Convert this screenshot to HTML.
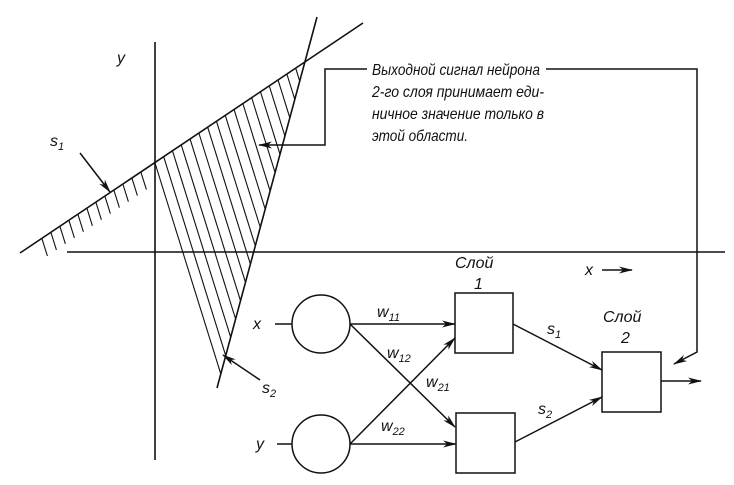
<!DOCTYPE html>
<html><head><meta charset="utf-8"><style>
html,body{margin:0;padding:0;background:#fff;width:734px;height:485px;overflow:hidden}
svg text{font-family:"Liberation Sans","DejaVu Sans",sans-serif;font-style:italic;fill:#111}
</style></head><body>
<svg width="734" height="485" viewBox="0 0 734 485" xmlns="http://www.w3.org/2000/svg">
<defs><marker id="a" markerWidth="14" markerHeight="8" refX="13" refY="4" orient="auto" markerUnits="userSpaceOnUse"><path d="M0,0.5 L14,4 L0,7.5 L4,4 Z" fill="#111"/></marker></defs>
<g stroke="#111" fill="none" stroke-width="1.6">
<line x1="155" y1="42" x2="155" y2="460"/>
<line x1="67" y1="252" x2="725" y2="252"/>
<line x1="20" y1="253" x2="363" y2="23"/>
<line x1="317" y1="17" x2="217" y2="388"/>
</g>
<g stroke="#111" stroke-width="1.1">
<line x1="155" y1="163" x2="220.8" y2="373.9"/><line x1="163.8" y1="157.1" x2="225.7" y2="355.6"/><line x1="172.6" y1="151.2" x2="230.7" y2="337.3"/><line x1="181.4" y1="145.3" x2="235.6" y2="319"/><line x1="190.2" y1="139.4" x2="240.5" y2="300.7"/><line x1="199" y1="133.5" x2="245.5" y2="282.4"/><line x1="207.8" y1="127.6" x2="250.4" y2="264.1"/><line x1="216.6" y1="121.7" x2="255.3" y2="245.8"/><line x1="225.4" y1="115.8" x2="260.3" y2="227.5"/><line x1="234.2" y1="109.9" x2="265.2" y2="209.2"/><line x1="243" y1="104" x2="270.1" y2="190.9"/><line x1="251.8" y1="98.1" x2="275.1" y2="172.6"/><line x1="260.6" y1="92.2" x2="280" y2="154.3"/><line x1="269.4" y1="86.3" x2="284.9" y2="136"/><line x1="278.2" y1="80.4" x2="289.8" y2="117.7"/><line x1="287" y1="74.5" x2="294.8" y2="99.4"/><line x1="295.8" y1="68.6" x2="299.7" y2="81.1"/>
<line x1="42" y1="238.8" x2="47.4" y2="256"/><line x1="51" y1="232.7" x2="56.4" y2="249.9"/><line x1="60" y1="226.7" x2="65.4" y2="243.9"/><line x1="69" y1="220.7" x2="74.4" y2="237.9"/><line x1="78" y1="214.6" x2="83.4" y2="231.8"/><line x1="87" y1="208.6" x2="92.4" y2="225.8"/><line x1="96" y1="202.6" x2="101.4" y2="219.8"/><line x1="105" y1="196.5" x2="110.4" y2="213.7"/><line x1="114" y1="190.5" x2="119.4" y2="207.7"/><line x1="123" y1="184.5" x2="128.4" y2="201.7"/><line x1="132" y1="178.4" x2="137.4" y2="195.6"/><line x1="141" y1="172.4" x2="146.4" y2="189.6"/>
</g>
<g stroke="#111" fill="none" stroke-width="1.5">
<polyline points="367,69 325,69 325,145 259,145" marker-end="url(#a)"/>
<polyline points="546,69 697,69 697,352 674,364" marker-end="url(#a)"/>
<line x1="80" y1="153" x2="110" y2="192" marker-end="url(#a)"/>
<line x1="260" y1="380" x2="223" y2="355" marker-end="url(#a)"/>
<line x1="602" y1="270" x2="632" y2="270" marker-end="url(#a)"/>
<circle cx="321" cy="324" r="29"/>
<circle cx="321" cy="444" r="29"/>
<line x1="275" y1="324" x2="292" y2="324"/>
<line x1="277" y1="444" x2="292" y2="444"/>
<rect x="455" y="293" width="58" height="60"/>
<rect x="456" y="413" width="59" height="60"/>
<rect x="602" y="352" width="59" height="60"/>
<line x1="350" y1="324" x2="455" y2="324" marker-end="url(#a)"/>
<line x1="350" y1="324" x2="455" y2="427" marker-end="url(#a)"/>
<line x1="350" y1="444" x2="455" y2="338" marker-end="url(#a)"/>
<line x1="350" y1="444" x2="456" y2="444" marker-end="url(#a)"/>
<line x1="513" y1="324" x2="602" y2="370" marker-end="url(#a)"/>
<line x1="515" y1="442" x2="602" y2="397" marker-end="url(#a)"/>
<line x1="661" y1="381" x2="701" y2="381" marker-end="url(#a)"/>
</g>
<g font-size="16">
<text x="372" y="75" textLength="168" lengthAdjust="spacingAndGlyphs">Выходной сигнал нейрона</text>
<text x="372" y="97" textLength="172" lengthAdjust="spacingAndGlyphs">2-го слоя принимает еди-</text>
<text x="372" y="119" textLength="172" lengthAdjust="spacingAndGlyphs">ничное значение только в</text>
<text x="372" y="141" textLength="96" lengthAdjust="spacingAndGlyphs">этой области.</text>
<text x="117" y="63">y</text>
<text x="585" y="275">x</text>
<text x="50" y="146">s<tspan font-size="11" dy="4">1</tspan></text>
<text x="262" y="393">s<tspan font-size="11" dy="4">2</tspan></text>
<text x="253" y="329">x</text>
<text x="256" y="449">y</text>
<text x="377" y="317">w<tspan font-size="11" dy="4">11</tspan></text>
<text x="387" y="358">w<tspan font-size="11" dy="4">12</tspan></text>
<text x="426" y="387">w<tspan font-size="11" dy="4">21</tspan></text>
<text x="381" y="431">w<tspan font-size="11" dy="4">22</tspan></text>
<text x="547" y="334">s<tspan font-size="11" dy="4">1</tspan></text>
<text x="538" y="414">s<tspan font-size="11" dy="4">2</tspan></text>
<text x="455" y="268">Слой</text>
<text x="474" y="289">1</text>
<text x="603" y="322">Слой</text>
<text x="621" y="343">2</text>
</g>
</svg>
</body></html>
